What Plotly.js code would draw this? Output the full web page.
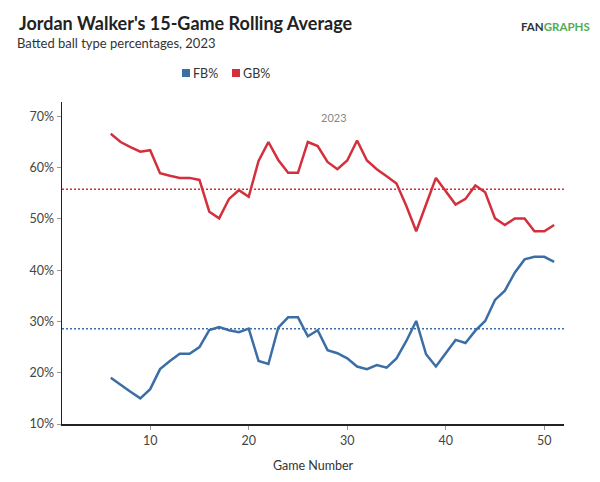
<!DOCTYPE html>
<html>
<head>
<meta charset="utf-8">
<script src="https://cdn.plot.ly/plotly-3.0.1.min.js"></script>
<style>
  html, body { margin: 0; padding: 0; background: #fff; }
  #chart { width: 600px; height: 482px; }
</style>
</head>
<body>
<div id="chart"></div>
<script>
// Data

const games = [
  6, 7, 8, 9, 10, 11, 12, 13, 14, 15, 16, 17, 18, 19, 20, 21, 22, 23, 24, 25,
  26, 27, 28, 29, 30, 31, 32, 33, 34, 35, 36, 37, 38, 39, 40, 41, 42, 43, 44,
  45, 46, 47, 48, 49, 50, 51,
];

const fbPct = [
  19.0, 17.6, 16.3, 15.0, 16.8, 20.7, 22.3, 23.7, 23.7, 25.0, 28.3, 28.9, 28.3,
  27.9, 28.6, 22.3, 21.7, 28.8, 30.8, 30.8, 27.1, 28.3, 24.4, 23.8, 22.8, 21.2,
  20.7, 21.5, 21.0, 22.8, 26.2, 30.1, 23.6, 21.2, 23.8, 26.4, 25.8, 28.2, 30.1,
  34.2, 36.0, 39.5, 42.1, 42.6, 42.6, 41.6,
];

const gbPct = [
  66.6, 65.0, 64.0, 63.1, 63.4, 58.9, 58.4, 58.0, 58.0, 57.6, 51.4, 50.1, 53.9,
  55.6, 54.3, 61.3, 65.0, 61.5, 59.0, 59.0, 65.0, 64.2, 61.1, 59.7, 61.4, 65.3,
  61.4, 59.7, 58.3, 56.9, 52.5, 47.6, 52.8, 58.0, 55.4, 52.8, 53.9, 56.5, 55.2,
  50.1, 48.8, 50.1, 50.1, 47.6, 47.6, 48.8,
];

// season averages (dotted reference lines)
const fbAvg = 28.6;
const gbAvg = 55.8;

const yTicks = [10, 20, 30, 40, 50, 60, 70];
const yTickLabels = ["10%", "20%", "30%", "40%", "50%", "60%", "70%"];
const xTicks = [10, 20, 30, 40, 50];

const seriesNames = ["FB%", "GB%"];
const seriesColors = ["#3b6ea5", "#d42f3c"];

// Layout helpers (pixel -> paper coords)

const W = 600;
const H = 482;
const margin = { l: 62, r: 36, t: 102, b: 58 };
const plotW = W - margin.l - margin.r;
const plotH = H - margin.t - margin.b;
const px2x = (px) => (px - margin.l) / plotW;
const px2y = (py) => (H - margin.b - py) / plotH;

const fontFam = "Lato, 'Open Sans', sans-serif";

// Traces

const data = [
  {
    x: games,
    y: fbPct,
    name: seriesNames[0],
    type: "scatter",
    mode: "lines",
    line: { color: seriesColors[0], width: 2.5 },
    showlegend: false,
  },
  {
    x: games,
    y: gbPct,
    name: seriesNames[1],
    type: "scatter",
    mode: "lines",
    line: { color: seriesColors[1], width: 2.5 },
    showlegend: false,
  },
];

// Legend drawn by hand (square swatch + label)
const legendItems = [
  { name: seriesNames[0], color: seriesColors[0], left: 182 },
  { name: seriesNames[1], color: seriesColors[1], left: 232 },
];

const shapes = [
  {
    type: "line",
    xref: "paper",
    x0: 0,
    x1: 1,
    yref: "y",
    y0: fbAvg,
    y1: fbAvg,
    line: { color: seriesColors[0], width: 1.5, dash: "2px,2px" },
  },
  {
    type: "line",
    xref: "paper",
    x0: 0,
    x1: 1,
    yref: "y",
    y0: gbAvg,
    y1: gbAvg,
    line: { color: seriesColors[1], width: 1.5, dash: "2px,2px" },
  },
];

const annotations = [
  {
    text: "Batted ball type percentages, 2023",
    xref: "paper",
    yref: "paper",
    x: px2x(15),
    y: px2y(43),
    xanchor: "left",
    yanchor: "middle",
    showarrow: false,
    font: { family: fontFam, size: 13, color: "#333" },
  },
  {
    text: "2023",
    xref: "paper",
    yref: "paper",
    x: px2x(334),
    y: px2y(117),
    xanchor: "center",
    yanchor: "middle",
    showarrow: false,
    font: { family: fontFam, size: 11, color: "#888" },
  },
  {
    text:
      "<b><span style='color:#333'>FAN</span><span style='color:#52ad55'>GRAPHS</span></b>",
    xref: "paper",
    yref: "paper",
    x: px2x(519),
    y: px2y(26),
    xanchor: "left",
    yanchor: "middle",
    showarrow: false,
    font: { family: fontFam, size: 11.5 },
  },
];

legendItems.forEach((item) => {
  shapes.push({
    type: "rect",
    xref: "paper",
    yref: "paper",
    x0: px2x(item.left),
    x1: px2x(item.left + 8),
    y0: px2y(69),
    y1: px2y(77),
    fillcolor: item.color,
    line: { width: 0 },
  });
  annotations.push({
    text: item.name,
    xref: "paper",
    yref: "paper",
    x: px2x(item.left + 9),
    y: px2y(73),
    xanchor: "left",
    yanchor: "middle",
    showarrow: false,
    font: { family: fontFam, size: 12.5, color: "#333" },
  });
});

const layout = {
  width: W,
  height: H,
  margin: margin,
  paper_bgcolor: "#fff",
  plot_bgcolor: "#fff",
  font: { family: fontFam, color: "#444" },
  title: {
    text: "<b>Jordan Walker's 15-Game Rolling Average</b>",
    xref: "container",
    yref: "container",
    x: 19 / W,
    xanchor: "left",
    y: 1 - 24 / H,
    yanchor: "middle",
    font: { family: fontFam, size: 18, color: "#222" },
  },
  xaxis: {
    range: [1.05, 52],
    tickvals: xTicks,
    ticks: "outside",
    ticklen: 4,
    tickcolor: "#999",
    showgrid: false,
    zeroline: false,
    showline: true,
    linecolor: "#222",
    linewidth: 1.5,
    tickfont: { family: fontFam, size: 12.5, color: "#444" },
    title: {
      text: "Game Number",
      font: { family: fontFam, size: 12.5, color: "#333" },
      standoff: 14,
    },
  },
  yaxis: {
    range: [10, 72.8],
    tickvals: yTicks,
    ticktext: yTickLabels,
    ticks: "outside",
    ticklen: 4,
    tickcolor: "#999",
    showgrid: false,
    zeroline: false,
    showline: true,
    linecolor: "#222",
    linewidth: 1.5,
    tickfont: { family: fontFam, size: 12.5, color: "#444" },
  },
  shapes: shapes,
  annotations: annotations,
  showlegend: false,
  dragmode: false,
};

Plotly.newPlot("chart", data, layout, {
  displayModeBar: false,
  staticPlot: true,
});
</script>
</body>
</html>
